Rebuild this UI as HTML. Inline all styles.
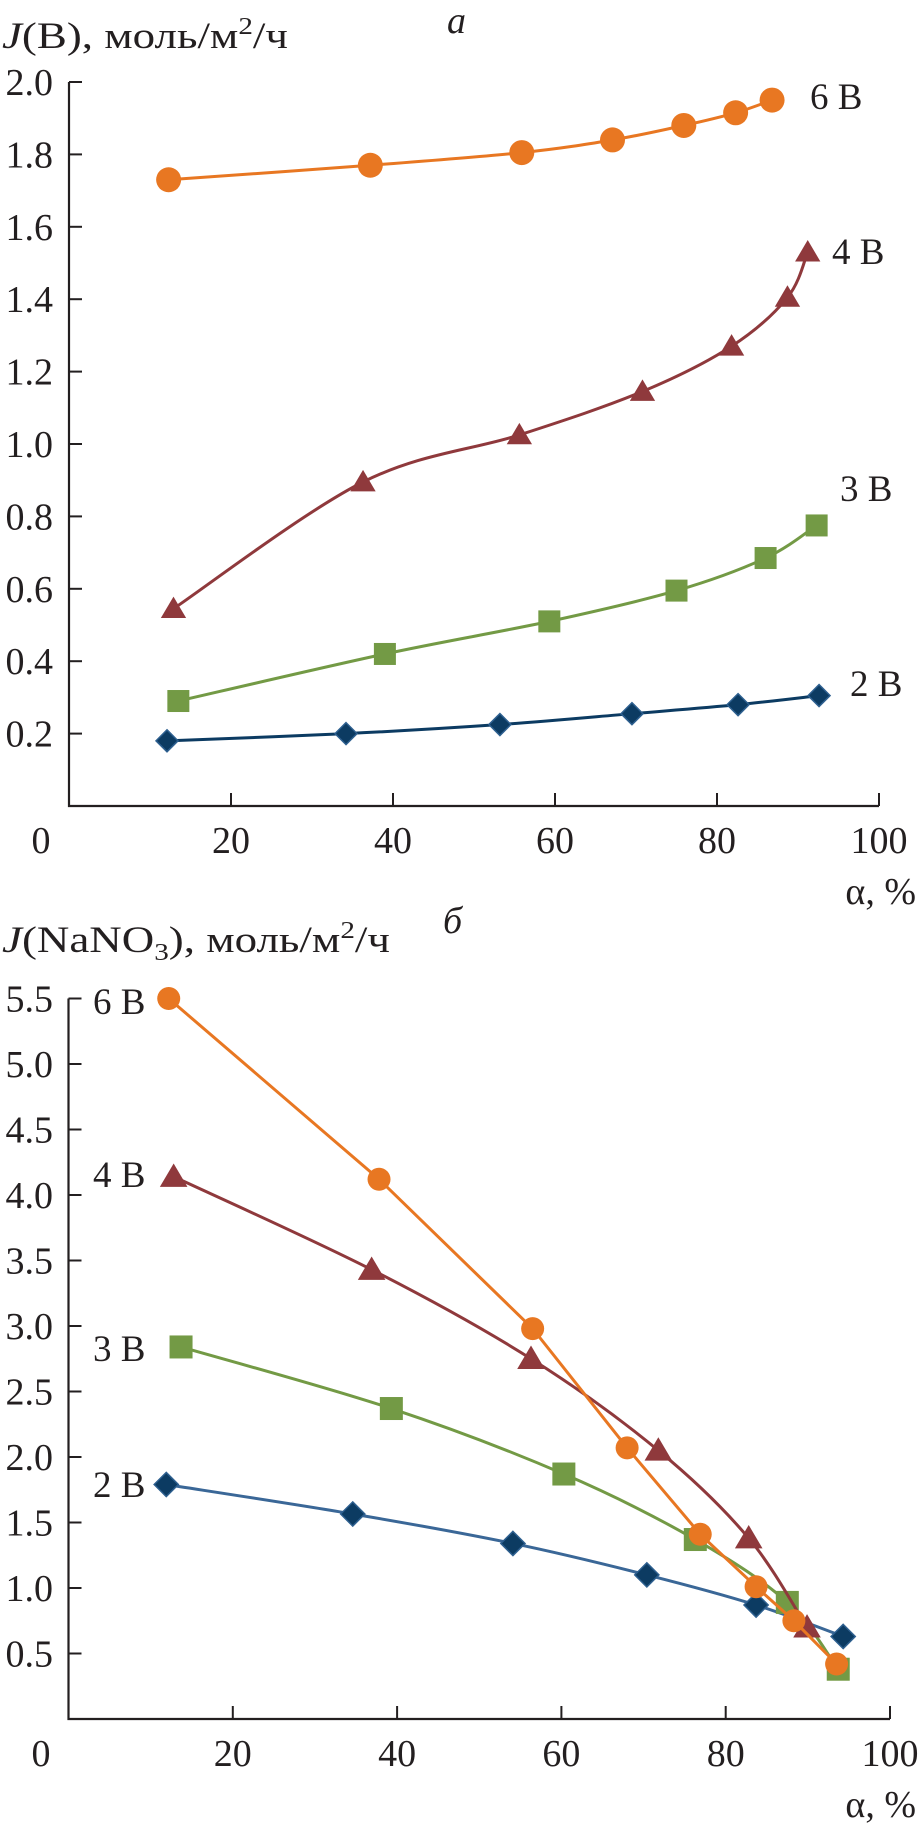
<!DOCTYPE html>
<html><head><meta charset="utf-8"><style>
html,body{margin:0;padding:0;background:#fff}
svg{display:block}
text{font-family:"Liberation Serif",serif;fill:#231f20}
</style></head><body>
<svg id="chart" width="919" height="1828" viewBox="0 0 919 1828" xmlns="http://www.w3.org/2000/svg">
<g id="top"></g>
<g id="bot"></g>
</svg>
<script>
// ---- Chart a: J(B) ----
const aXTicks = [0, 20, 40, 60, 80, 100];
const aYTicks = ["0.2","0.4","0.6","0.8","1.0","1.2","1.4","1.6","1.8","2.0"];
const a6x = [12.3, 37.2, 55.9, 67.1, 75.9, 82.3, 86.8];
const a6y = [1.73, 1.77, 1.805, 1.84, 1.88, 1.915, 1.95];
const a4x = [12.9, 36.3, 55.6, 70.8, 81.8, 88.7, 91.2];
const a4y = [0.545, 0.895, 1.025, 1.145, 1.27, 1.405, 1.53];
const a3x = [13.5, 39.0, 59.3, 75.0, 86.0, 92.3];
const a3y = [0.29, 0.42, 0.51, 0.595, 0.685, 0.775];
const a2x = [12.1, 34.2, 53.2, 69.5, 82.6, 92.6];
const a2y = [0.18, 0.20, 0.225, 0.255, 0.28, 0.305];
// ---- Chart б: J(NaNO3) ----
const bXTicks = [0, 20, 40, 60, 80, 100];
const bYTicks = ["0.5","1.0","1.5","2.0","2.5","3.0","3.5","4.0","4.5","5.0","5.5"];
const b6x = [12.2, 37.8, 56.5, 68.0, 76.9, 83.7, 88.3, 93.5];
const b6y = [5.50, 4.12, 2.98, 2.07, 1.41, 1.01, 0.75, 0.42];
const b4x = [12.8, 36.9, 56.3, 71.8, 82.8, 89.9];
const b4y = [4.14, 3.43, 2.75, 2.05, 1.38, 0.70];
const b3x = [13.7, 39.3, 60.3, 76.3, 87.5, 93.7];
const b3y = [2.84, 2.37, 1.87, 1.37, 0.89, 0.38];
const b2x = [11.9, 34.6, 54.1, 70.4, 83.7, 94.3];
const b2y = [1.79, 1.565, 1.34, 1.10, 0.87, 0.63];

const NS = "http://www.w3.org/2000/svg";
function mk(tag, parent, attrs){const e=document.createElementNS(NS,tag);for(const k in attrs)e.setAttribute(k,attrs[k]);parent.appendChild(e);return e;}

function smooth(pts){
  let d="M"+pts[0][0]+","+pts[0][1];
  for(let i=0;i<pts.length-1;i++){
    const p0=pts[Math.max(0,i-1)],p1=pts[i],p2=pts[i+1],p3=pts[Math.min(pts.length-1,i+2)];
    const c1=[p1[0]+(p2[0]-p0[0])/6,p1[1]+(p2[1]-p0[1])/6];
    const c2=[p2[0]-(p3[0]-p1[0])/6,p2[1]-(p3[1]-p1[1])/6];
    d+=" C"+c1[0]+","+c1[1]+" "+c2[0]+","+c2[1]+" "+p2[0]+","+p2[1];
  }
  return d;
}

function marker(g, shape, cx, cy, color, s){
  let e;
  if(shape==="circle"){e=mk("circle",g,{cx:cx,cy:cy,r:s,fill:color});}
  else if(shape==="tri"){e=mk("polygon",g,{points:(cx)+","+(cy-s*1.1)+" "+(cx+s*1.15)+","+(cy+s*0.85)+" "+(cx-s*1.15)+","+(cy+s*0.85),fill:color});}
  else if(shape==="square"){e=mk("rect",g,{x:cx-s,y:cy-s,width:2*s,height:2*s,fill:color});}
  else {e=mk("polygon",g,{points:cx+","+(cy-s*1.1)+" "+(cx+s*1.1)+","+cy+" "+cx+","+(cy+s*1.1)+" "+(cx-s*1.1)+","+cy,fill:color,stroke:"#2d5f8f","stroke-width":1.5});}
  return e;
}

function drawChart(g, cfg){
  const X=a=>cfg.x0+cfg.xs*a, Y=v=>cfg.y0-cfg.ys*v;
  const axis=mk("path",g,{d:"M"+X(0)+","+Y(cfg.ymax)+" L"+X(0)+","+Y(0)+" L"+X(100)+","+Y(0),fill:"none",stroke:"#231f20","stroke-width":2.2});
  
  
  cfg.yt.forEach(t=>{
    const v=parseFloat(t);
    const tk=mk("line",g,{x1:X(0),y1:Y(v),x2:X(0)+13,y2:Y(v),stroke:"#231f20","stroke-width":2});
    
    
    const tx=mk("text",g,{x:53,y:Y(v)+13,"text-anchor":"end","font-size":38});
    tx.textContent=t;
    
    
  });
  cfg.xt.forEach(t=>{
    if(t>0){
      const tk=mk("line",g,{x1:X(t),y1:Y(0),x2:X(t),y2:Y(0)-13,stroke:"#231f20","stroke-width":2});
      
      
    }
    const tx=mk("text",g,{x:t===0?41:X(t),y:Y(0)+47,"text-anchor":"middle","font-size":38});
    tx.textContent=String(t);
    
    
  });
  const xl=mk("text",g,{x:916,y:Y(0)+98,"text-anchor":"end","font-size":38});
  xl.textContent="α, %";
  
  
  cfg.series.forEach(s=>{
    const sg=mk("g",g,{});
    
    
    const pts=s.xs.map((a,i)=>[X(a),Y(s.ys[i])]);
    const p=mk("path",sg,{d:s.straight?("M"+pts.map(q=>q.join(",")).join(" L")):smooth(pts),fill:"none",stroke:s.line,"stroke-width":3});
    
    
    pts.forEach(q=>{
      const m=marker(sg,s.shape,q[0],q[1],s.color,s.size);
      
      
    });
    const lb=mk("text",sg,{x:s.lx,y:s.ly,"font-size":37});
    lb.textContent=s.label;
    
    
  });
}

drawChart(document.getElementById("top"),{
  x0:69,xs:8.1,y0:806,ys:362,ymax:2.0,xt:aXTicks,yt:aYTicks,
  series:[
    {name:"2v",xs:a2x,ys:a2y,color:"#0c3b62",line:"#0c3b62",shape:"diamond",size:10,label:"2 B",lx:850,ly:696},
    {name:"3v",xs:a3x,ys:a3y,color:"#739a45",line:"#739a45",shape:"square",size:11,label:"3 B",lx:840,ly:501},
    {name:"4v",xs:a4x,ys:a4y,color:"#8f393c",line:"#8f393c",shape:"tri",size:11,label:"4 B",lx:832,ly:264},
    {name:"6v",xs:a6x,ys:a6y,color:"#e87722",line:"#e87722",shape:"circle",size:12.5,label:"6 B",lx:810,ly:109}
  ]
});
drawChart(document.getElementById("bot"),{
  x0:68.5,xs:8.215,y0:1719,ys:131,ymax:5.5,xt:bXTicks,yt:bYTicks,
  series:[
    {name:"2v",xs:b2x,ys:b2y,color:"#0c3b62",line:"#3a6797",shape:"diamond",size:11,label:"2 B",lx:93,ly:1497},
    {name:"3v",xs:b3x,ys:b3y,color:"#739a45",line:"#739a45",shape:"square",size:11.5,label:"3 B",lx:93,ly:1361},
    {name:"4v",xs:b4x,ys:b4y,color:"#8f393c",line:"#8f393c",shape:"tri",size:12,label:"4 B",lx:93,ly:1187},
    {name:"6v",xs:b6x,ys:b6y,color:"#e87722",line:"#e87722",shape:"circle",size:11.5,label:"6 B",lx:93,ly:1014,straight:true}
  ]
});
const svg=document.getElementById("chart");
const t1=mk("text",svg,{x:2,y:48,"font-size":37,textLength:286,lengthAdjust:"spacingAndGlyphs"});
t1.innerHTML='<tspan font-style="italic">J</tspan>(B), моль/м<tspan font-size="24" dy="-14">2</tspan><tspan dy="14">/ч</tspan>';


const p1=mk("text",svg,{x:447,y:33,"font-size":38,"font-style":"italic"});
p1.textContent="а";


const t2=mk("text",svg,{x:2,y:952,"font-size":37,textLength:388,lengthAdjust:"spacingAndGlyphs"});
t2.innerHTML='<tspan font-style="italic">J</tspan>(NaNO<tspan font-size="24" dy="8">3</tspan><tspan dy="-8">), моль/м</tspan><tspan font-size="24" dy="-14">2</tspan><tspan dy="14">/ч</tspan>';


const p2=mk("text",svg,{x:443,y:933,"font-size":38,"font-style":"italic"});
p2.textContent="б";


</script>
</body></html>
